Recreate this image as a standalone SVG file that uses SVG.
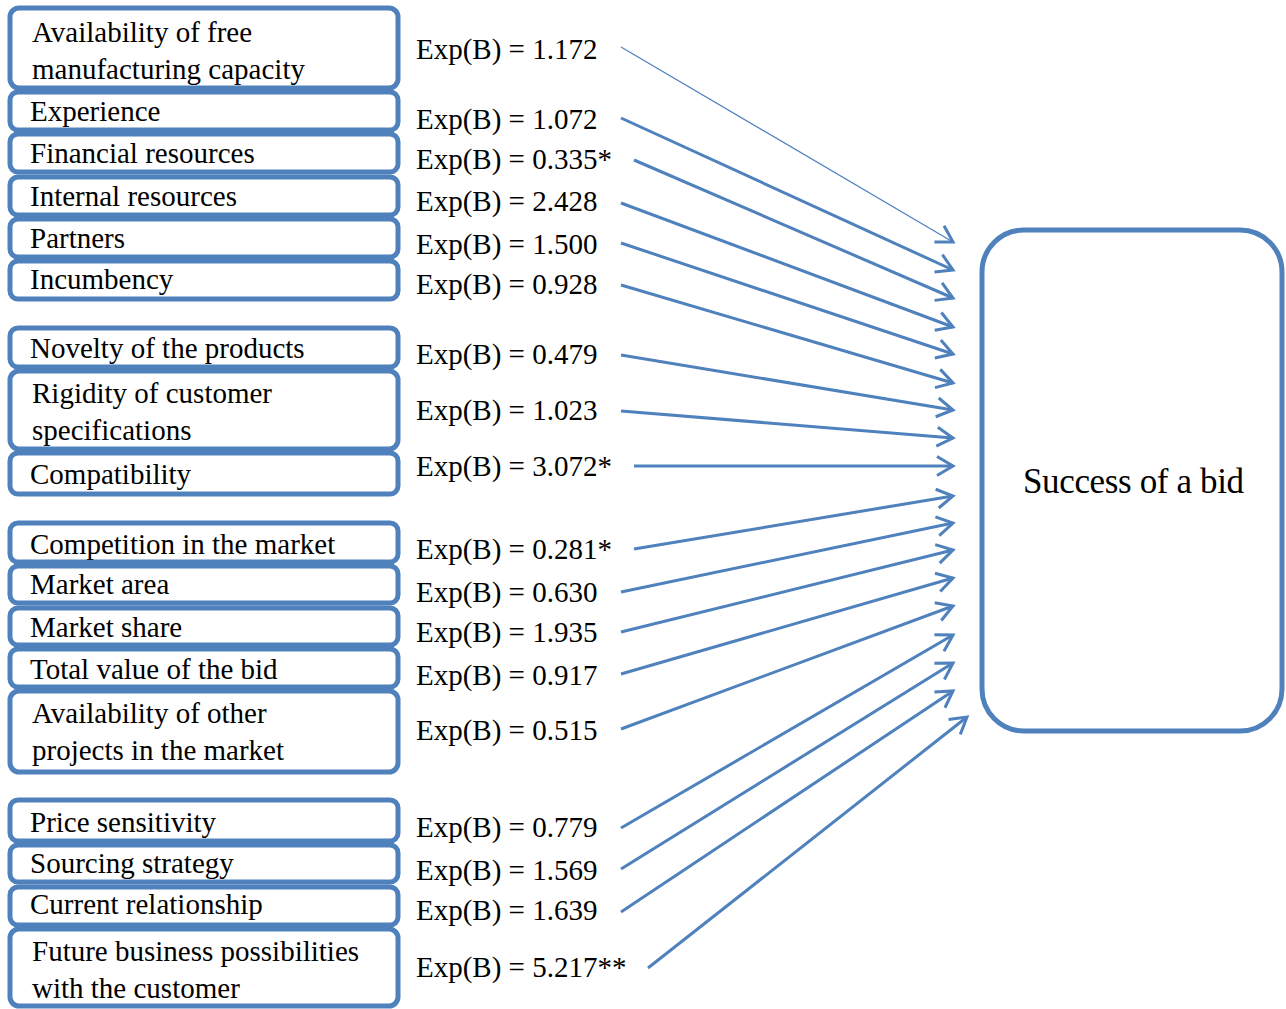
<svg xmlns="http://www.w3.org/2000/svg" width="1286" height="1009" viewBox="0 0 1286 1009">
<style>
.box{fill:#fff;stroke:#4F81BD;stroke-width:5}
.t{font-family:"Liberation Serif","Times New Roman",serif;font-size:29px;fill:#000}
.big{font-family:"Liberation Serif","Times New Roman",serif;font-size:35px;fill:#000}
.c{fill:none;stroke:#4F81BD;stroke-width:3;marker-end:url(#ah)}
</style>
<defs>
<marker id="ah" markerUnits="userSpaceOnUse" markerWidth="30" markerHeight="30" viewBox="-20 -15 30 30" refX="0" refY="0" orient="auto" overflow="visible">
<path d="M-16,-9.5 L0,0 L-16,9.5" fill="none" stroke="#4F81BD" stroke-width="3"/>
</marker>
</defs>
<rect width="1286" height="1009" fill="#fff"/>
<g id="n1"><rect class="box" x="10" y="8" width="388" height="80" rx="9"/><text class="t" x="32" y="42">Availability of free</text><text class="t" x="32" y="79">manufacturing capacity</text></g>
<g id="n2"><rect class="box" x="10" y="92" width="388" height="38" rx="8"/><text class="t" x="30" y="121">Experience</text></g>
<g id="n3"><rect class="box" x="10" y="134" width="388" height="38" rx="8"/><text class="t" x="30" y="163">Financial resources</text></g>
<g id="n4"><rect class="box" x="10" y="177" width="388" height="38" rx="8"/><text class="t" x="30" y="206">Internal resources</text></g>
<g id="n5"><rect class="box" x="10" y="219" width="388" height="38" rx="8"/><text class="t" x="30" y="248">Partners</text></g>
<g id="n6"><rect class="box" x="10" y="261" width="388" height="38" rx="8"/><text class="t" x="30" y="289">Incumbency</text></g>
<g id="n7"><rect class="box" x="10" y="328" width="388" height="39" rx="8"/><text class="t" x="30" y="358">Novelty of the products</text></g>
<g id="n8"><rect class="box" x="10" y="371" width="388" height="78" rx="9"/><text class="t" x="32" y="403">Rigidity of customer</text><text class="t" x="32" y="440">specifications</text></g>
<g id="n9"><rect class="box" x="10" y="453" width="388" height="41" rx="8"/><text class="t" x="30" y="484">Compatibility</text></g>
<g id="n10"><rect class="box" x="10" y="523" width="388" height="39" rx="8"/><text class="t" x="30" y="554">Competition in the market</text></g>
<g id="n11"><rect class="box" x="10" y="566" width="388" height="37" rx="8"/><text class="t" x="30" y="594">Market area</text></g>
<g id="n12"><rect class="box" x="10" y="608" width="388" height="37" rx="8"/><text class="t" x="30" y="637">Market share</text></g>
<g id="n13"><rect class="box" x="10" y="649" width="388" height="38" rx="8"/><text class="t" x="30" y="679">Total value of the bid</text></g>
<g id="n14"><rect class="box" x="10" y="691" width="388" height="81" rx="9"/><text class="t" x="32" y="723">Availability of other</text><text class="t" x="32" y="760">projects in the market</text></g>
<g id="n15"><rect class="box" x="10" y="800" width="388" height="41" rx="8"/><text class="t" x="30" y="832">Price sensitivity</text></g>
<g id="n16"><rect class="box" x="10" y="845" width="388" height="37" rx="8"/><text class="t" x="30" y="873">Sourcing strategy</text></g>
<g id="n17"><rect class="box" x="10" y="887" width="388" height="38" rx="8"/><text class="t" x="30" y="914">Current relationship</text></g>
<g id="n18"><rect class="box" x="10" y="929" width="388" height="77" rx="9"/><text class="t" x="32" y="961">Future business possibilities</text><text class="t" x="32" y="998">with the customer</text></g>
<g id="target"><rect class="box" x="982" y="230" width="300" height="501" rx="42"/><text class="big" x="1023" y="493" textLength="221" lengthAdjust="spacing">Success of a bid</text></g>
<g id="labels">
<text class="t" x="416" y="59">Exp(B) = 1.172</text>
<text class="t" x="416" y="129">Exp(B) = 1.072</text>
<text class="t" x="416" y="169">Exp(B) = 0.335*</text>
<text class="t" x="416" y="211">Exp(B) = 2.428</text>
<text class="t" x="416" y="254">Exp(B) = 1.500</text>
<text class="t" x="416" y="294">Exp(B) = 0.928</text>
<text class="t" x="416" y="364">Exp(B) = 0.479</text>
<text class="t" x="416" y="420">Exp(B) = 1.023</text>
<text class="t" x="416" y="476">Exp(B) = 3.072*</text>
<text class="t" x="416" y="559">Exp(B) = 0.281*</text>
<text class="t" x="416" y="602">Exp(B) = 0.630</text>
<text class="t" x="416" y="642">Exp(B) = 1.935</text>
<text class="t" x="416" y="685">Exp(B) = 0.917</text>
<text class="t" x="416" y="740">Exp(B) = 0.515</text>
<text class="t" x="416" y="837">Exp(B) = 0.779</text>
<text class="t" x="416" y="880">Exp(B) = 1.569</text>
<text class="t" x="416" y="920">Exp(B) = 1.639</text>
<text class="t" x="416" y="977">Exp(B) = 5.217**</text>
</g>
<g id="connectors">
<line class="c" style="stroke-width:1.2" x1="621" y1="47" x2="953" y2="242"/>
<line class="c" x1="621" y1="118" x2="953" y2="270"/>
<line class="c" x1="634" y1="160" x2="953" y2="298"/>
<line class="c" x1="621" y1="203" x2="953" y2="327"/>
<line class="c" x1="621" y1="243" x2="953" y2="354"/>
<line class="c" x1="621" y1="285" x2="953" y2="383"/>
<line class="c" x1="621" y1="355" x2="953" y2="410"/>
<line class="c" x1="621" y1="411" x2="953" y2="438"/>
<line class="c" x1="634" y1="466" x2="953" y2="466"/>
<line class="c" x1="634" y1="549" x2="953" y2="496"/>
<line class="c" x1="621" y1="592" x2="953" y2="523"/>
<line class="c" x1="621" y1="632" x2="953" y2="550"/>
<line class="c" x1="621" y1="674" x2="953" y2="578"/>
<line class="c" x1="621" y1="729" x2="953" y2="606"/>
<line class="c" x1="621" y1="828" x2="953" y2="635"/>
<line class="c" x1="621" y1="869" x2="953" y2="663"/>
<line class="c" x1="621" y1="912" x2="953" y2="691"/>
<line class="c" x1="648" y1="968" x2="967" y2="717"/>
</g>
</svg>
